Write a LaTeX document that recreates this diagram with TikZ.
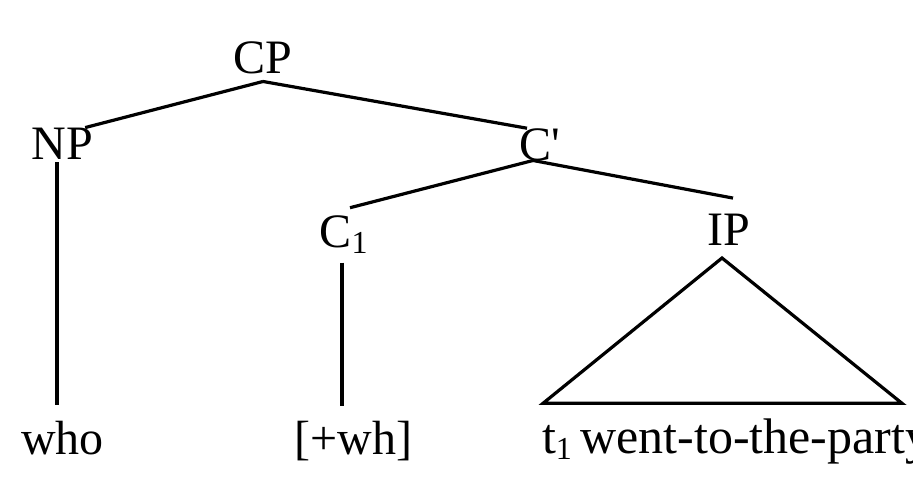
\documentclass[tikz,border=0pt]{standalone}
\usepackage{fontspec}
\setmainfont{Liberation Serif}[Ligatures=TeXOff]
\usepackage{tikz}
\tikzset{%
  cat/.style={inner sep=0mm, outer sep=0mm, anchor=base, font=\fontsize{24}{28}\selectfont},
  branch/.style={line width=1.6pt}
}
\newcommand{\subone}{\raisebox{-3.25pt}{\fontsize{16}{16}\selectfont 1}}

\begin{document}
\begin{tikzpicture}[x=0.5pt, y=-0.5pt]
\useasboundingbox (0,0) rectangle (913,499);

\node[cat] (cp) at (263,73) {CP};
\node[cat] (np) at (62.5,159) {NP};
\node[cat] (cbar) at (540,160) {C'};
\node[cat] (c1) at (343.5,247) {C\subone};
\node[cat] (ip) at (729,245) {IP};

\node[cat] (who) at (62.5,454) {who};
\node[cat] (wh) at (353.5,454) {[+wh]};
\node[cat, anchor=base west, font=\fontsize{25}{29}\selectfont] (party) at (542,453) {t\subone\kern-2pt{} went-to-the-party};

\draw[branch] ([yshift=-4pt]cp.south) -- ([xshift=-4pt]np.north east);
\draw[branch] ([yshift=-4pt]cp.south) -- ([xshift=-6.5pt]cbar.north);

\draw[branch] ([xshift=-3.5pt]cbar.south) -- ([xshift=3.25pt,yshift=3.75pt]c1.north);
\draw[branch] ([xshift=-3.5pt]cbar.south) -- ([xshift=2pt,yshift=7.75pt]ip.north);

\draw[branch] ([xshift=-2.75pt,yshift=-1.5pt]np.south) -- ([xshift=-2.75pt,yshift=8pt]who.north);
\draw[branch] ([xshift=-0.75pt,yshift=-4.5pt]c1.south) -- ([xshift=-5.75pt,yshift=7.5pt]wh.north);

\draw[branch] ([xshift=-3.5pt,yshift=-6.5pt]ip.south) -- ([xshift=0.5pt,yshift=7.5pt]party.north west) -- ([xshift=180pt,yshift=7.5pt]party.north west) -- cycle;

\end{tikzpicture}
\end{document}
